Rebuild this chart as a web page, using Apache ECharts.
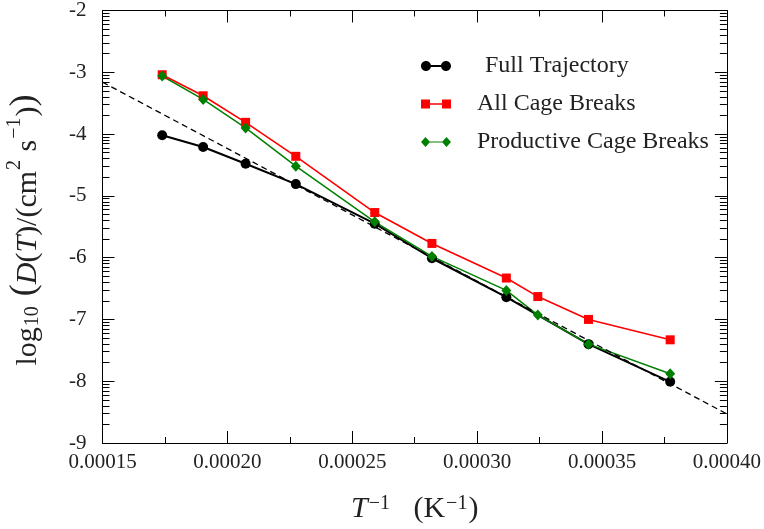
<!DOCTYPE html>
<html>
<head>
<meta charset="utf-8">
<script src="https://cdn.jsdelivr.net/npm/echarts@6/dist/echarts.min.js"></script>
<style>html,body{margin:0;padding:0;background:#fff;}#c{width:764px;height:529px;}</style>
</head>
<body>
<div id="c"></div>
<script>
// Data
var xFull = [0.0001739, 0.0001903, 0.0002073, 0.0002274, 0.000259, 0.0002819, 0.0003117, 0.0003446, 0.0003773];
var yFull = [-4.02, -4.21, -4.48, -4.81, -5.45, -6.01, -6.64, -7.40, -8.01];
var xCage = [0.0001739, 0.0001903, 0.0002073, 0.0002274, 0.000259, 0.0002819, 0.0003117, 0.0003243, 0.0003446, 0.0003773];
var yAll = [-3.04, -3.38, -3.81, -4.36, -5.27, -5.77, -6.33, -6.63, -7.00, -7.33];
var yProd = [-3.06, -3.44, -3.90, -4.52, -5.42, -5.98, -6.53, -6.93, -7.40, -7.88];
var xFit = [0.00015, 0.00040];
var yFit = [-3.16, -8.53];
var xTicks = [0.00015, 0.00020, 0.00025, 0.00030, 0.00035, 0.00040];
var yTicks = [-9, -8, -7, -6, -5, -4, -3, -2];
var seriesNames = ['Full Trajectory', 'All Cage Breaks', 'Productive Cage Breaks'];

function pairs(xs, ys) { return xs.map(function (x, i) { return [x, ys[i]]; }); }

var yMinor = [];
for (var d = yTicks[0]; d < yTicks[yTicks.length - 1]; d++) {
  for (var k = 2; k <= 9; k++) yMinor.push(d + Math.log10(k));
}

var FONT = '"Liberation Serif", "DejaVu Serif", serif';
var TXT = '#222';

function circ(cx, cy, r) {
  var k = 0.5523 * r;
  return 'M' + (cx + r) + ',' + cy +
    'C' + (cx + r) + ',' + (cy + k) + ' ' + (cx + k) + ',' + (cy + r) + ' ' + cx + ',' + (cy + r) +
    'C' + (cx - k) + ',' + (cy + r) + ' ' + (cx - r) + ',' + (cy + k) + ' ' + (cx - r) + ',' + cy +
    'C' + (cx - r) + ',' + (cy - k) + ' ' + (cx - k) + ',' + (cy - r) + ' ' + cx + ',' + (cy - r) +
    'C' + (cx + k) + ',' + (cy - r) + ' ' + (cx + r) + ',' + (cy - k) + ' ' + (cx + r) + ',' + cy + 'Z';
}
var circleIcon = 'path://' + circ(5, 5, 5) + ' ' + circ(25, 5, 5) + ' M5,4.1H25V5.9H5Z';
var squareIcon = 'path://M0,0.5H9V9.5H0Z M21,0.5H30V9.5H21Z M9,4.3H21V5.7H9Z';
var diamondIcon = 'path://M4.5,0L9,5L4.5,10L0,5Z M25.5,0L30,5L25.5,10L21,5Z M4.5,4.4H25.5V5.6H4.5Z';

var chart = echarts.init(document.getElementById('c'));

var xMin = 0.00015, xMax = 0.0004, xInt = 0.00005;
var yMin = -9, yMax = -2;

var TS = 30, SS = 20;
function makeRich(lh) {
  return {
    n: {fontFamily: FONT, fontSize: TS, color: TXT, fill: TXT, lineHeight: lh, verticalAlign: 'bottom'},
    it: {fontFamily: FONT, fontStyle: 'italic', fontSize: TS, color: TXT, fill: TXT, lineHeight: lh, verticalAlign: 'bottom'},
    big: {fontFamily: FONT, fontSize: 36, color: TXT, fill: TXT, lineHeight: lh, verticalAlign: 'bottom'},
    sub: {fontFamily: FONT, fontSize: SS, color: TXT, fill: TXT, lineHeight: SS, verticalAlign: 'bottom', padding: [0, 1, 0, 1]},
    sup: {fontFamily: FONT, fontSize: SS, color: TXT, fill: TXT, lineHeight: SS, verticalAlign: 'top', padding: [0, 1, 0, 1]}
  };
}

var option = {
  animation: false,
  grid: {left: 102.5, right: 36.3, top: 7, bottom: 85},
  legend: {
    orient: 'vertical',
    left: 416,
    top: 49,
    itemWidth: 30,
    itemHeight: 10,
    itemGap: 14,
    textStyle: {fontFamily: FONT, fontSize: 24, color: TXT, lineHeight: 24},
    itemStyle: {borderWidth: 0},
    data: [
      {name: seriesNames[0], icon: circleIcon, textStyle: {padding: [0, 0, 0, 29]}},
      {name: seriesNames[1], icon: squareIcon, textStyle: {padding: [0, 0, 0, 21]}},
      {name: seriesNames[2], icon: diamondIcon, textStyle: {padding: [0, 0, 0, 21]}}
    ]
  },
  xAxis: [
    {type: 'value', position: 'bottom', min: xMin, max: xMax, interval: xInt,
     axisLine: {show: true, onZero: false, lineStyle: {color: '#000'}},
     axisTick: {show: true, inside: true, length: 12, lineStyle: {color: '#000', width: 1}},
     minorTick: {show: true, splitNumber: 2, length: 6, lineStyle: {color: '#000', width: 1}},
     splitLine: {show: false},
     axisLabel: {margin: 12, fontFamily: FONT, fontSize: 21, color: TXT, lineHeight: 14,
                 formatter: function (v) { return v.toFixed(5); }},
     name: '{it|T}{sup|−1}{n|   (K}{sup|−1}{n|)}',
     nameLocation: 'middle', nameGap: 51,
     nameTextStyle: {fontFamily: FONT, color: TXT, rich: makeRich(30)}},
    {type: 'value', position: 'top', min: xMin, max: xMax, interval: xInt,
     axisLine: {show: true, onZero: false, lineStyle: {color: '#000'}},
     axisTick: {show: true, inside: true, length: 12, lineStyle: {color: '#000', width: 1}},
     minorTick: {show: true, splitNumber: 2, length: 6, lineStyle: {color: '#000', width: 1}},
     splitLine: {show: false},
     axisLabel: {show: false}}
  ],
  yAxis: [
    {type: 'value', position: 'left', min: yMin, max: yMax, interval: 1,
     axisLine: {show: true, onZero: false, lineStyle: {color: '#000'}},
     axisTick: {show: true, inside: true, length: 12, lineStyle: {color: '#000', width: 1}},
     splitLine: {show: false},
     axisLabel: {margin: 16, fontFamily: FONT, fontSize: 21, color: TXT, lineHeight: 14}},
    {type: 'value', position: 'right', min: yMin, max: yMax, interval: 1,
     axisLine: {show: true, onZero: false, lineStyle: {color: '#000'}},
     axisTick: {show: true, inside: true, length: 12, lineStyle: {color: '#000', width: 1}},
     splitLine: {show: false},
     axisLabel: {show: false}},
    {type: 'value', position: 'left', min: yMin, max: yMax,
     axisLine: {show: false},
     axisTick: {show: true, inside: true, length: 7, customValues: yMinor, lineStyle: {color: '#000', width: 1}},
     splitLine: {show: false},
     axisLabel: {show: false}},
    {type: 'value', position: 'right', min: yMin, max: yMax,
     axisLine: {show: false},
     axisTick: {show: true, inside: true, length: 7, customValues: yMinor, lineStyle: {color: '#000', width: 1}},
     splitLine: {show: false},
     axisLabel: {show: false}}
  ],
  graphic: [
    {
      type: 'text',
      x: 24, y: 230,
      rotation: Math.PI / 2,
      style: {
        text: '{n|log}{sub|10}{big| (}{it|D}{n|(}{it|T}{n|)/(cm}{sup|2}{n| s}{sup|−1}{n|)}{big|)}',
        align: 'center', verticalAlign: 'middle',
        fontFamily: FONT, fill: TXT,
        rich: makeRich(38)
      }
    }
  ],
  series: [
    {
      name: seriesNames[0], type: 'line',
      data: pairs(xFull, yFull),
      symbol: 'circle', symbolSize: 10,
      lineStyle: {color: '#000', width: 2},
      itemStyle: {color: '#000'}
    },
    {
      name: seriesNames[1], type: 'line',
      data: pairs(xCage, yAll),
      symbol: 'rect', symbolSize: 9,
      lineStyle: {color: '#ff0000', width: 1.6},
      itemStyle: {color: '#ff0000'}
    },
    {
      name: seriesNames[2], type: 'line',
      data: pairs(xCage, yProd),
      symbol: 'diamond', symbolSize: [10, 11],
      lineStyle: {color: '#008000', width: 1.5},
      itemStyle: {color: '#008000'}
    },
    {
      name: 'fit', type: 'line',
      data: pairs(xFit, yFit),
      symbol: 'none',
      lineStyle: {color: '#000', width: 1.3, type: [6, 4]},
      silent: true
    }
  ]
};
chart.setOption(option);
</script>
</body>
</html>
